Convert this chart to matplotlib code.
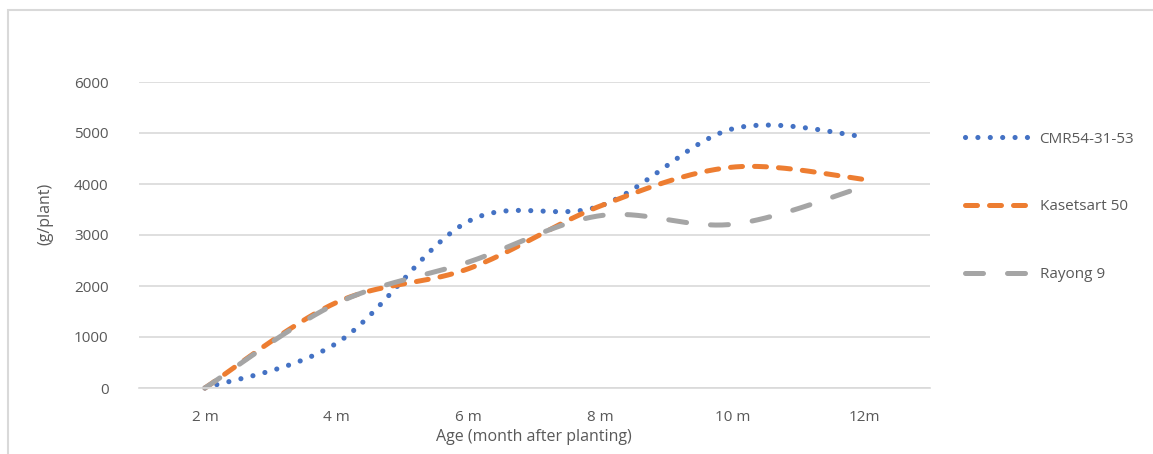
import numpy as np
from matplotlib import pyplot as plt
from matplotlib import patches

# data
months = ['2 m', '4 m', '6 m', '8 m', '10 m', '12m']
cmr = [0, 880, 3270, 3570, 5080, 4930]
kasetsart = [0, 1680, 2340, 3570, 4330, 4090]
rayong = [0, 1660, 2470, 3380, 3210, 3950]


def smooth(xs, ys, n=40):
    """Excel-like smoothed line: cubic bezier with catmull-rom controls"""
    pts = np.column_stack([xs, ys]).astype(float)
    out = [pts[0]]
    last = len(pts) - 1
    for i in range(last):
        p0 = pts[max(i - 1, 0)]
        p1 = pts[i]
        p2 = pts[i + 1]
        p3 = pts[min(i + 2, last)]
        c1 = p1 + (p2 - p0) / 6
        c2 = p2 - (p3 - p1) / 6
        t = np.linspace(0, 1, n)[1:, None]
        seg = ((1 - t) ** 3) * p1 + 3 * ((1 - t) ** 2) * t * c1 \
            + 3 * (1 - t) * t ** 2 * c2 + t ** 3 * p2
        out.extend(seg)
    out = np.array(out)
    return out[:, 0], out[:, 1]


plt.rcParams['font.family'] = ['Open Sans', 'DejaVu Sans']
txt = '#595959'
grid = '#d9d9d9'

fig = plt.figure(figsize=(11.53, 4.54), dpi=100)
ax = fig.add_axes([139 / 1153, 1 - 388 / 454, (930 - 139) / 1153, (388 - 82) / 454])

xs = np.arange(len(months))
series = [
    (cmr, 'CMR54-31-53', '#4472C4', 3.7, (0, (0.01, 2.4)), 'round'),
    (kasetsart, 'Kasetsart 50', '#ED7D31', 3.6, (0, (2.4, 2.4)), 'round'),
    (rayong, 'Rayong 9', '#A5A5A5', 3.6, (0, (3.6, 4.8)), 'round'),
]
for vals, name, col, lw, ls, cap in series:
    sx, sy = smooth(xs, vals)
    ax.plot(sx, sy, color=col, lw=lw, linestyle=ls, dash_capstyle=cap,
            label=name, clip_on=False)

ax.set_xlim(-0.5, len(months) - 0.5)
ax.set_ylim(0, 6000)
ax.set_yticks(range(0, 6001, 1000))
ax.set_xticks(xs)
ax.set_xticklabels(months)
ax.yaxis.grid(True, color=grid, lw=1.2)
ax.set_axisbelow(True)
for s in ['top', 'right', 'left']:
    ax.spines[s].set_visible(False)
ax.spines['bottom'].set_color(grid)
ax.spines['bottom'].set_linewidth(1.2)
ax.tick_params(length=0, labelsize=11, labelcolor=txt)
ax.tick_params(axis='y', pad=22)
ax.tick_params(axis='x', pad=16)

fig.text(534 / 1153, 1 - 437 / 454, 'Age (month after planting)', ha='center',
         va='center', fontsize=11.5, color=txt)
fig.text(45 / 1153, 1 - 214 / 454, '(g/plant)', ha='center', va='center',
         rotation=90, fontsize=11.5, color=txt)

leg = ax.legend(loc='upper left', bbox_to_anchor=(951 / 1153, 1 - 118 / 454),
                bbox_transform=fig.transFigure, frameon=False, fontsize=11,
                handlelength=4.3, handletextpad=0.6, labelspacing=3.45)
for t in leg.get_texts():
    t.set_color(txt)

# outer chart border
fig.patches.append(patches.Rectangle((7.5 / 1153, -0.2), 1.2, (454 - 10) / 454 + 0.2,
                                     transform=fig.transFigure, fill=False,
                                     edgecolor=grid, lw=1.5))

fig.savefig('out.png', dpi=100)
